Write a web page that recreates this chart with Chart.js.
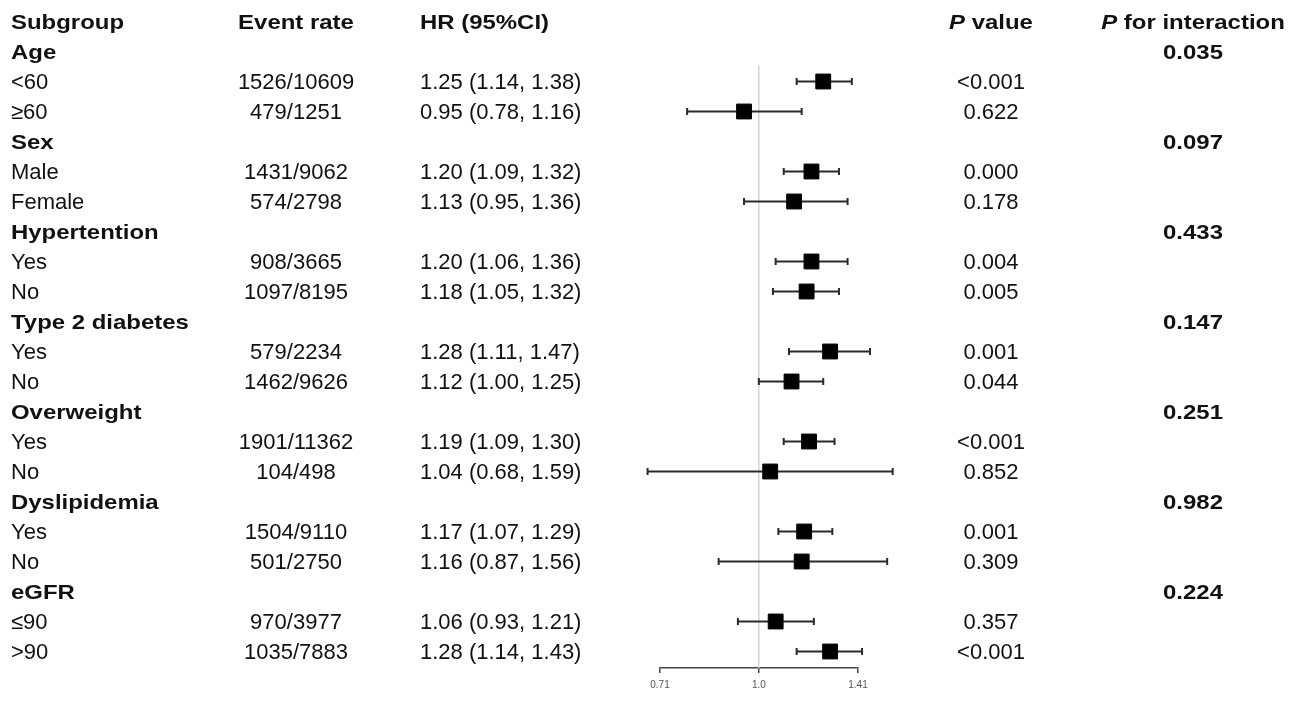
<!DOCTYPE html>
<html>
<head>
<meta charset="utf-8">
<script src="https://cdn.jsdelivr.net/npm/chart.js@4"></script>
<style>
  html, body { margin: 0; padding: 0; background: #fff; }
  #wrap { width: 1299px; height: 702px; position: relative; }
</style>
</head>
<body>
<div id="wrap"><canvas id="forest"></canvas></div>
<script>
// data
const groups = ['Age', 'Sex', 'Hypertention', 'Type 2 diabetes', 'Overweight', 'Dyslipidemia', 'eGFR'];
const pInteraction = ['0.035', '0.097', '0.433', '0.147', '0.251', '0.982', '0.224'];
const subgroups = ['<60', '≥60', 'Male', 'Female', 'Yes', 'No', 'Yes', 'No', 'Yes', 'No', 'Yes', 'No', '≤90', '>90'];
const events = ['1526/10609', '479/1251', '1431/9062', '574/2798', '908/3665', '1097/8195', '579/2234',
  '1462/9626', '1901/11362', '104/498', '1504/9110', '501/2750', '970/3977', '1035/7883'];
const hr = [1.25, 0.95, 1.20, 1.13, 1.20, 1.18, 1.28, 1.12, 1.19, 1.04, 1.17, 1.16, 1.06, 1.28];
const lower = [1.14, 0.78, 1.09, 0.95, 1.06, 1.05, 1.11, 1.00, 1.09, 0.68, 1.07, 0.87, 0.93, 1.14];
const upper = [1.38, 1.16, 1.32, 1.36, 1.36, 1.32, 1.47, 1.25, 1.30, 1.59, 1.29, 1.56, 1.21, 1.43];
const pValues = ['<0.001', '0.622', '0.000', '0.178', '0.004', '0.005', '0.001', '0.044', '<0.001',
  '0.852', '0.001', '0.309', '0.357', '<0.001'];
const tickValues = [0.71, 1.0, 1.41];
const tickLabels = ['0.71', '1.0', '1.41'];

// row index: 0 = header, each group takes 3 rows
const groupRow = g => 1 + g * 3;
const subRow = i => groupRow(Math.floor(i / 2)) + 1 + (i % 2);
const CAP = 0.12;

const squares = hr.map((v, i) => ({ x: v, y: subRow(i) }));
// whisker + end caps as one broken line (null y = gap)
const whiskers = [];
hr.forEach((v, i) => {
  const r = subRow(i);
  whiskers.push({ x: lower[i], y: r }, { x: upper[i], y: r }, { x: 1, y: null });
  whiskers.push({ x: lower[i], y: r - CAP }, { x: lower[i], y: r + CAP }, { x: 1, y: null });
  whiskers.push({ x: upper[i], y: r - CAP }, { x: upper[i], y: r + CAP }, { x: 1, y: null });
});

const FONT = "'Liberation Sans', Arial, sans-serif";
const INK = '#111';
const BOLD_SX = 1.14; // bold text in the source is a bit stretched sideways

// table text + reference line
const tablePlugin = {
  id: 'table',
  beforeDatasetsDraw(chart) {
    const c = chart.ctx, xs = chart.scales.x, ys = chart.scales.y;
    const x1 = xs.getPixelForValue(1);
    c.save();
    c.strokeStyle = '#d6d6d6';
    c.lineWidth = 1.5;
    c.beginPath();
    c.moveTo(x1, ys.getPixelForValue(1.45));
    c.lineTo(x1, chart.chartArea.bottom);
    c.stroke();
    c.restore();
  },
  afterDraw(chart) {
    const c = chart.ctx, ys = chart.scales.y;
    const bold = 'bold 21px ' + FONT, boldIt = 'italic bold 21px ' + FONT, reg = '22px ' + FONT;
    c.save();
    c.fillStyle = INK;
    c.textBaseline = 'alphabetic';

    // regular: baseline at row centre + half cap height
    function txt(s, x, y, align) {
      c.font = reg;
      c.textAlign = align;
      c.fillText(s, x, y + 7.9);
    }
    function btxt(s, x, y, align, font) {
      c.save();
      c.font = font || bold;
      c.textAlign = align;
      c.translate(x, y + 7.5);
      c.scale(BOLD_SX, 1);
      c.fillText(s, 0, 0);
      c.restore();
    }
    // italic P + bold rest, centred at cx
    function pHead(rest, cx, y) {
      c.font = boldIt; const w1 = c.measureText('P').width * BOLD_SX;
      c.font = bold; const w2 = c.measureText(rest).width * BOLD_SX;
      const x0 = cx - (w1 + w2) / 2;
      btxt('P', x0, y, 'left', boldIt);
      btxt(rest, x0 + w1, y, 'left');
    }

    const yh = ys.getPixelForValue(0);
    btxt('Subgroup', 11, yh, 'left');
    btxt('Event rate', 296, yh, 'center');
    btxt('HR (95%CI)', 420, yh, 'left');
    pHead(' value', 991, yh);
    pHead(' for interaction', 1193, yh);

    groups.forEach((g, k) => {
      const y = ys.getPixelForValue(groupRow(k));
      btxt(g, 11, y, 'left');
      btxt(pInteraction[k], 1193, y, 'center');
    });

    subgroups.forEach((s, i) => {
      const y = ys.getPixelForValue(subRow(i));
      txt(s, 11, y, 'left');
      txt(events[i], 296, y, 'center');
      txt(hr[i].toFixed(2) + ' (' + lower[i].toFixed(2) + ', ' + upper[i].toFixed(2) + ')', 420, y, 'left');
      txt(pValues[i], 991, y, 'center');
    });
    c.restore();
  }
};

new Chart(document.getElementById('forest'), {
  type: 'scatter',
  data: {
    datasets: [
      {
        data: squares,
        pointStyle: 'rect',
        pointRadius: 10.5,
        backgroundColor: '#000',
        borderColor: '#000',
        borderWidth: 1,
        clip: false
      },
      {
        data: whiskers,
        showLine: true,
        spanGaps: false,
        pointRadius: 0,
        borderColor: '#2a2a2a',
        borderWidth: 2,
        clip: false
      }
    ]
  },
  options: {
    responsive: true,
    maintainAspectRatio: false,
    animation: false,
    events: [],
    layout: { autoPadding: false, padding: { left: 660, right: 441, top: 6.5, bottom: 0 } },
    plugins: { legend: { display: false }, tooltip: { enabled: false } },
    scales: {
      x: {
        type: 'logarithmic',
        min: tickValues[0],
        max: tickValues[tickValues.length - 1],
        afterBuildTicks: s => { s.ticks = tickValues.map(v => ({ value: v })); },
        afterFit: s => { s.height = 34; },
        ticks: {
          autoSkip: false,
          maxRotation: 0,
          padding: 6,
          color: '#555',
          font: { family: FONT, size: 10 },
          callback: v => tickLabels[tickValues.indexOf(v)]
        },
        grid: { drawOnChartArea: false, drawTicks: true, tickLength: 5, color: '#444', lineWidth: 1.5 },
        border: { display: true, color: '#444', width: 1.5 }
      },
      y: {
        type: 'linear',
        reverse: true,
        min: -0.5,
        max: 21.55,
        display: false
      }
    }
  },
  plugins: [tablePlugin]
});
</script>
</body>
</html>
